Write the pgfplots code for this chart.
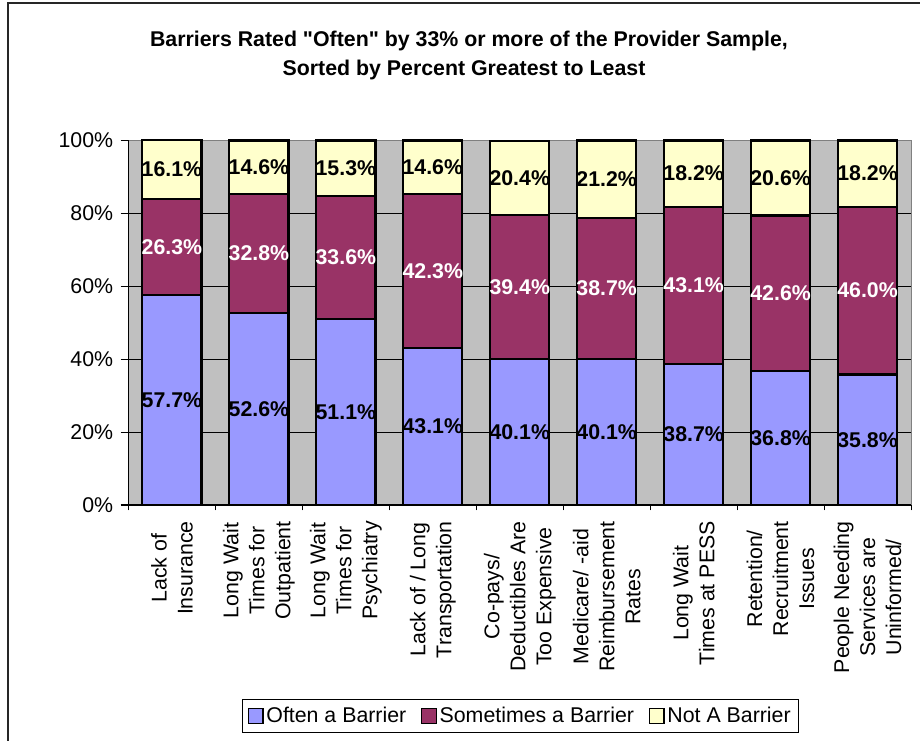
\documentclass[border=0pt]{standalone}
\usepackage{pgfplots}
\pgfplotsset{compat=1.18}
\usepackage{pgfplotstable}
\usepackage{fontspec}
\setmainfont{Liberation Sans}
\definecolor{cblue}{HTML}{9999FF}
\definecolor{cmaroon}{HTML}{993366}
\definecolor{cyel}{HTML}{FFFFCC}
\definecolor{cgray}{HTML}{C0C0C0}
\definecolor{cdgray}{HTML}{808080}
\pgfplotstableread{
x often some not
0 57.7 26.3 16.1
1 52.6 32.8 14.6
2 51.1 33.6 15.3
3 43.1 42.3 14.6
4 40.1 39.4 20.4
5 40.1 38.7 21.2
6 38.7 43.1 18.2
7 36.8 42.6 20.6
8 35.8 46.0 18.2
}\data
\pgfplotsset{base/.style={at={(96.375pt,176.25pt)}, anchor=south west,
  scale only axis, width=586.9pt, height=273.4pt,
  xmin=-0.5, xmax=8.5, ymin=0, ymax=100, clip=false}}
\begin{document}
\begin{tikzpicture}
\useasboundingbox (0,0) rectangle (690pt,555pt);
\draw[line width=1.1pt, black!85] (6pt,-10pt) -- (6pt,552.75pt) -- (720pt,552.75pt);
\node[font=\fontsize{16}{17}\selectfont\bfseries, anchor=base, inner sep=0pt] at (351.75pt,520.1pt) {Barriers Rated \textquotedbl Often\textquotedbl\ by 33\% or more of the Provider Sample,};
\node[font=\fontsize{16}{17}\selectfont\bfseries, anchor=base, inner sep=0pt] at (348pt,498.4pt) {Sorted by Percent Greatest to Least};
\begin{axis}[
  base,
  axis background/.style={fill=cgray},
  axis x line*=bottom, axis y line*=left,
  axis line style={line width=0.8pt, black},
  ytick={0,20,40,60,80,100},
  yticklabels={0\%,20\%,40\%,60\%,80\%,100\%},
  ymajorgrids, grid style={black, line width=0.6pt},
  xtick={0,...,8},
  xticklabels={{Lack of\\Insurance},{Long Wait\\Times for\\Outpatient},{Long Wait\\Times for\\Psychiatry},{Lack of / Long\\Transportation},{Co-pays/\\Deductibles Are\\Too Expensive},{Medicare/ -aid\\Reimbursement\\Rates},{Long Wait\\Times at PESS},{Retention/\\Recruitment\\Issues},{People Needing\\Services are\\Uninformed/}},
  minor xtick={-0.5,0.5,...,8.5},
  major x tick style={draw=none},
  tick align=outside, major tick length=6pt, minor tick length=4pt,
  tick style={black, line width=0.8pt},
  tick label style={font=\fontsize{16}{19}\selectfont},
  yticklabel style={xshift=-2pt},
  xticklabel style={rotate=90, anchor=east, align=center, inner sep=0pt, xshift=-6pt, font=\fontsize{16}{19.5}\selectfont},
  ybar stacked, bar width=0.68,
  legend columns=-1,
  legend style={at={(0.501,-0.579)}, anchor=center, draw=black, line width=0.8pt, font=\fontsize{16}{19}\selectfont, /tikz/every even column/.append style={column sep=9pt}, inner sep=4pt},
  legend image code/.code={\draw[#1, draw=black, line width=1pt] (0pt,-5.5pt) rectangle (11pt,5.5pt);},
]
\addplot[fill=cblue, draw=black, line width=1.6pt] table[x=x, y=often] {\data};
\addplot[fill=cmaroon, draw=black, line width=1.6pt] table[x=x, y=some] {\data};
\addplot[fill=cyel, draw=black, line width=1.6pt] table[x=x, y=not] {\data};
\draw[cdgray, line width=0.8pt] (rel axis cs:0,1) -- (rel axis cs:1,1) -- (rel axis cs:1,0);
\legend{Often a Barrier, Sometimes a Barrier, Not A Barrier}
\end{axis}
\begin{axis}[
  base, hide axis,
  point meta=explicit symbolic,
  nodes near coords={\pgfplotspointmeta\%},
  every node near coord/.append style={anchor=center, inner sep=0pt, font=\fontsize{16}{19}\selectfont\bfseries},
]
\addplot[draw=none, mark=none, nodes near coords style={text=black}] table[x=x, y expr=\thisrow{often}/2, meta=often] {\data};
\addplot[draw=none, mark=none, nodes near coords style={text=white}] table[x=x, y expr=\thisrow{often}+\thisrow{some}/2, meta=some] {\data};
\addplot[draw=none, mark=none, nodes near coords style={text=black}] table[x=x, y expr=\thisrow{often}+\thisrow{some}+\thisrow{not}/2, meta=not] {\data};
\end{axis}
\end{tikzpicture}
\end{document}
